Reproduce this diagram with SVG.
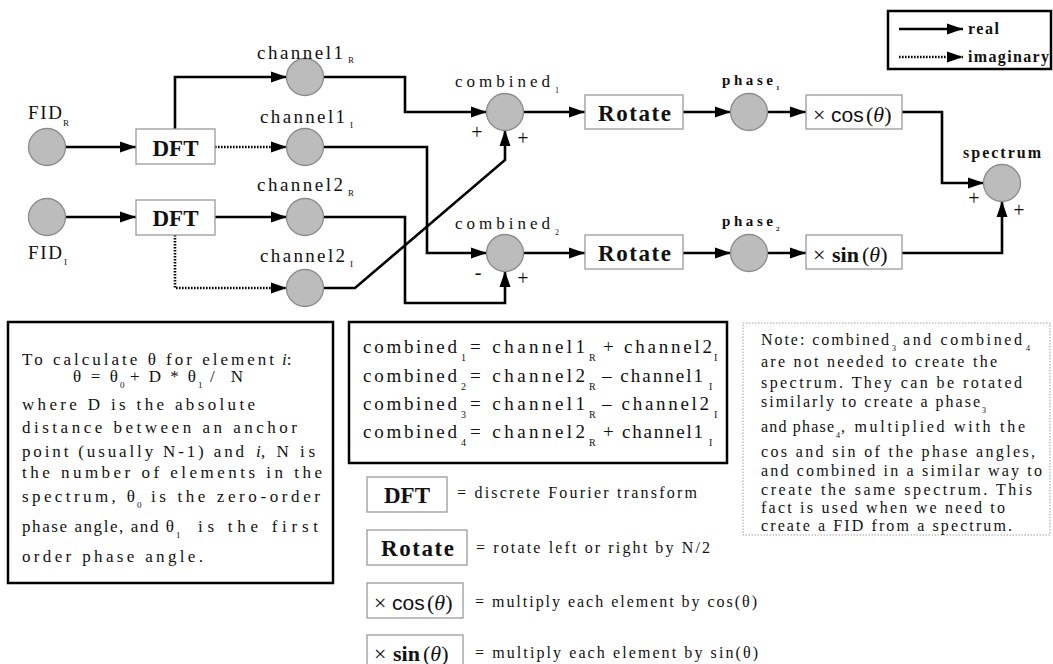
<svg xmlns="http://www.w3.org/2000/svg" width="1053" height="664" viewBox="0 0 1053 664" font-family="'Liberation Serif', 'Times New Roman', 'DejaVu Serif', serif">
<style>
text{font-family:'Liberation Serif','Times New Roman','DejaVu Serif',serif;fill:#111}
.c{fill:#bcbcbc;stroke:#8c8c8c;stroke-width:1.3}
.b{fill:#fff;stroke:#9a9a9a;stroke-width:1.3}
.ln{fill:none;stroke:#000;stroke-width:2.6;marker-end:url(#ah)}
.dt{stroke-dasharray:1.6 1.4}
.lbl{font-size:19px}
.sub{font-size:9px}
.op{font-size:23px;font-weight:bold}
.pm{font-size:20px;text-anchor:middle}
.bx{font-size:17px}
.fm{font-size:19px}
.nt{font-size:16px}
.lg{font-size:16px}
.sans{font-family:'Liberation Sans','DejaVu Sans',sans-serif}
</style>
<defs>
<marker id="ah" markerUnits="userSpaceOnUse" markerWidth="17" markerHeight="12" refX="16" refY="6" orient="auto">
<path d="M0,0.5 L16,6 L0,11.5 z" fill="#000"/>
</marker>
</defs>
<rect width="1053" height="664" fill="#fff"/>

<g id="connectors">
<path class="ln" d="M65,147 H136"/>
<path class="ln" d="M65,217 H136"/>
<path class="ln" d="M175,129 V77 H287"/>
<path class="ln dt" d="M215,147 H287"/>
<path class="ln" d="M215,217 H287"/>
<path class="ln dt" d="M175,235 V288 H287"/>
<path class="ln" d="M323,77 H405 V112 H487"/>
<path class="ln" d="M323,147 H427 V253 H487"/>
<path class="ln" d="M323,217 H405 V303 H505 V271"/>
<path class="ln" d="M323,288 H355 L505,160 V130"/>
<path class="ln" d="M523,112 H585"/>
<path class="ln" d="M523,253 H585"/>
<path class="ln" d="M683,112 H731"/>
<path class="ln" d="M683,253 H731"/>
<path class="ln" d="M767,112 H806"/>
<path class="ln" d="M767,253 H806"/>
<path class="ln" d="M902,112 H942 V183 H984"/>
<path class="ln" d="M902,253 H1002 V201"/>
</g>

<g id="FID_R"><circle class="c" cx="47" cy="147" r="18.5"/>
<text class="lbl" x="28" y="119"><tspan textLength="34">FID</tspan><tspan class="sub" x="63" y="126">R</tspan></text></g>
<g id="FID_I"><circle class="c" cx="47" cy="217" r="18.5"/>
<text class="lbl" x="28" y="259"><tspan textLength="34">FID</tspan><tspan class="sub" x="64" y="265">I</tspan></text></g>

<g id="DFT1"><rect class="b" x="136" y="129" width="79" height="35"/>
<text class="op" x="175.5" y="156" text-anchor="middle">DFT</text></g>
<g id="DFT2"><rect class="b" x="136" y="200" width="79" height="35"/>
<text class="op" x="175.5" y="226" text-anchor="middle">DFT</text></g>

<g id="channel1R"><circle class="c" cx="305" cy="77" r="18.5"/>
<text class="lbl" x="257" y="59"><tspan textLength="86">channel1</tspan><tspan class="sub" x="348" y="63">R</tspan></text></g>
<g id="channel1I"><circle class="c" cx="305" cy="147" r="18.5"/>
<text class="lbl" x="260" y="123"><tspan textLength="85">channel1</tspan><tspan class="sub" x="350" y="128">I</tspan></text></g>
<g id="channel2R"><circle class="c" cx="305" cy="217" r="18.5"/>
<text class="lbl" x="257" y="191"><tspan textLength="86">channel2</tspan><tspan class="sub" x="348" y="196">R</tspan></text></g>
<g id="channel2I"><circle class="c" cx="305" cy="288" r="18.5"/>
<text class="lbl" x="260" y="262"><tspan textLength="85">channel2</tspan><tspan class="sub" x="350" y="267">I</tspan></text></g>

<g id="combined1"><circle class="c" cx="505" cy="112" r="18.5"/>
<text font-size="17" x="455" y="87"><tspan textLength="95">combined</tspan><tspan font-size="8" x="555" y="93">1</tspan></text>
<text class="pm" x="477" y="139">+</text><text class="pm" x="523" y="145">+</text></g>
<g id="combined2"><circle class="c" cx="505" cy="253" r="18.5"/>
<text font-size="17" x="455" y="229"><tspan textLength="95">combined</tspan><tspan font-size="8" x="555" y="235">2</tspan></text>
<text class="pm" x="478" y="279">-</text><text class="pm" x="523" y="285">+</text></g>

<g id="rotate1"><rect class="b" x="585" y="95" width="98" height="34"/>
<text class="op" x="598" y="121" textLength="73">Rotate</text></g>
<g id="rotate2"><rect class="b" x="585" y="235" width="98" height="34"/>
<text class="op" x="598" y="261" textLength="73">Rotate</text></g>

<g id="phase1"><circle class="c" cx="749" cy="112" r="18.5"/>
<text font-size="15" font-weight="bold" x="722" y="85"><tspan textLength="51">phase</tspan><tspan font-size="7" x="776" y="90">1</tspan></text></g>
<g id="phase2"><circle class="c" cx="749" cy="253" r="18.5"/>
<text font-size="15" font-weight="bold" x="722" y="226"><tspan textLength="51">phase</tspan><tspan font-size="7" x="776" y="231">2</tspan></text></g>

<g id="cos"><rect class="b" x="806" y="95" width="96" height="34"/>
<text font-size="22" x="813" y="122">×<tspan x="831" class="sans" font-size="21">cos</tspan><tspan x="866">(</tspan><tspan font-style="italic">θ</tspan><tspan>)</tspan></text></g>
<g id="sin"><rect class="b" x="806" y="235" width="96" height="34"/>
<text font-size="22" x="813" y="262">×<tspan x="832" font-weight="bold">sin</tspan><tspan x="862">(</tspan><tspan font-style="italic">θ</tspan><tspan>)</tspan></text></g>

<g id="spectrum"><circle class="c" cx="1002" cy="183" r="18.5"/>
<text font-size="16" font-weight="bold" x="963" y="158" textLength="78">spectrum</text>
<text class="pm" x="974" y="205">+</text><text class="pm" x="1019" y="217">+</text></g>

<g id="legend">
<rect x="888" y="11" width="163" height="58" fill="#fff" stroke="#000" stroke-width="2.5"/>
<path class="ln" d="M899,29 H963"/>
<path class="ln dt" d="M899,57 H963"/>
<text font-size="16" font-weight="bold" x="968" y="34" textLength="31">real</text>
<text font-size="16" font-weight="bold" x="968" y="62" textLength="81">imaginary</text>
</g>

<g id="theta-note">
<rect x="8" y="322" width="325" height="261" fill="#fff" stroke="#000" stroke-width="2.5"/>
<text class="bx" y="365"><tspan x="22" textLength="252">To calculate θ for element</tspan><tspan x="282" font-style="italic">i</tspan><tspan>:</tspan></text>
<text class="bx" y="382"><tspan x="73" textLength="45">θ = θ</tspan><tspan class="sub" x="120" y="388">0</tspan><tspan x="130" y="382" textLength="66">+ D * θ</tspan><tspan class="sub" x="198" y="388">1</tspan><tspan x="210" y="382" textLength="33">/ N</tspan></text>
<text class="bx" x="22" y="410" textLength="233">where D is the absolute</text>
<text class="bx" x="22" y="433" textLength="275">distance between an anchor</text>
<text class="bx" y="457"><tspan x="22" textLength="222">point (usually N-1) and</tspan><tspan x="256" font-style="italic">i</tspan><tspan x="261" textLength="54">, N is</tspan></text>
<text class="bx" x="22" y="478" textLength="300">the number of elements in the</text>
<text class="bx" y="502"><tspan x="22" textLength="113">spectrum, θ</tspan><tspan class="sub" x="137" y="508">0</tspan><tspan x="151" y="502" textLength="169">is the zero-order</tspan></text>
<text class="bx" y="532"><tspan x="22" textLength="152">phase angle, and θ</tspan><tspan class="sub" x="176" y="538">1</tspan><tspan x="198" y="532" textLength="120">is the first</tspan></text>
<text class="bx" x="22" y="562" textLength="181">order phase angle.</text>
</g>

<g id="formulas">
<rect x="349" y="322" width="378" height="141" fill="#fff" stroke="#000" stroke-width="2.5"/>
<text class="fm" y="353"><tspan x="363" textLength="94">combined</tspan><tspan font-size="10" x="461" y="361">1</tspan><tspan x="470" y="353" textLength="115">= channel1</tspan><tspan font-size="10" x="589" y="361">R</tspan><tspan x="603" y="353" textLength="109">+ channel2</tspan><tspan font-size="10" x="714" y="361">I</tspan></text>
<text class="fm" y="382"><tspan x="363" textLength="94">combined</tspan><tspan font-size="10" x="461" y="390">2</tspan><tspan x="470" y="382" textLength="115">= channel2</tspan><tspan font-size="10" x="589" y="390">R</tspan><tspan x="602" y="382" textLength="101">– channel1</tspan><tspan font-size="10" x="709" y="390">I</tspan></text>
<text class="fm" y="410"><tspan x="363" textLength="94">combined</tspan><tspan font-size="10" x="461" y="418">3</tspan><tspan x="470" y="410" textLength="115">= channel1</tspan><tspan font-size="10" x="589" y="418">R</tspan><tspan x="602" y="410" textLength="107">– channel2</tspan><tspan font-size="10" x="714" y="418">I</tspan></text>
<text class="fm" y="438"><tspan x="363" textLength="94">combined</tspan><tspan font-size="10" x="461" y="446">4</tspan><tspan x="470" y="438" textLength="115">= channel2</tspan><tspan font-size="10" x="589" y="446">R</tspan><tspan x="603" y="438" textLength="100">+ channel1</tspan><tspan font-size="10" x="709" y="446">I</tspan></text>
</g>

<g id="note">
<rect x="743" y="323" width="307" height="212" fill="#fff" stroke="#a0a0a0" stroke-width="1" stroke-dasharray="1.5 1.5"/>
<text class="nt" y="345"><tspan x="761" textLength="128">Note: combined</tspan><tspan font-size="8" x="892" y="351">3</tspan><tspan x="903" y="345" textLength="119">and combined</tspan><tspan font-size="8" x="1026" y="351">4</tspan></text>
<text class="nt" x="761" y="367" textLength="236">are not needed to create the</text>
<text class="nt" x="761" y="388" textLength="261">spectrum.  They can be rotated</text>
<text class="nt" y="407"><tspan x="761" textLength="219">similarly to create a phase</tspan><tspan font-size="8" x="982" y="413">3</tspan></text>
<text class="nt" y="432"><tspan x="761" textLength="73">and phase</tspan><tspan font-size="8" x="836" y="438">4</tspan><tspan x="841" y="432" textLength="184">, multiplied with the</tspan></text>
<text class="nt" x="761" y="457" textLength="274">cos and sin of the phase angles,</text>
<text class="nt" x="761" y="476" textLength="281">and combined in a similar way to</text>
<text class="nt" x="761" y="495" textLength="271">create the same spectrum.  This</text>
<text class="nt" x="761" y="513" textLength="244">fact is used when we need to</text>
<text class="nt" x="761" y="531" textLength="251">create a FID from a spectrum.</text>
</g>

<g id="key-dft"><rect class="b" x="367" y="477" width="80" height="35"/>
<text class="op" x="407" y="503" text-anchor="middle">DFT</text>
<text class="lg" x="457" y="498" textLength="240">= discrete Fourier transform</text></g>
<g id="key-rotate"><rect class="b" x="367" y="530" width="100" height="35"/>
<text class="op" x="381" y="556" textLength="73">Rotate</text>
<text class="lg" x="476" y="553" textLength="234">= rotate left or right by N/2</text></g>
<g id="key-cos"><rect class="b" x="367" y="583" width="96" height="35"/>
<text font-size="22" x="374" y="610">×<tspan x="392" class="sans" font-size="21">cos</tspan><tspan x="427">(</tspan><tspan font-style="italic">θ</tspan><tspan>)</tspan></text>
<text class="lg" x="475" y="607" textLength="282">= multiply each element by cos(θ)</text></g>
<g id="key-sin"><rect class="b" x="367" y="635" width="96" height="35"/>
<text font-size="22" x="374" y="661">×<tspan x="393" font-weight="bold">sin</tspan><tspan x="423">(</tspan><tspan font-style="italic">θ</tspan><tspan>)</tspan></text>
<text class="lg" x="475" y="658" textLength="283">= multiply each element by sin(θ)</text></g>
</svg>
